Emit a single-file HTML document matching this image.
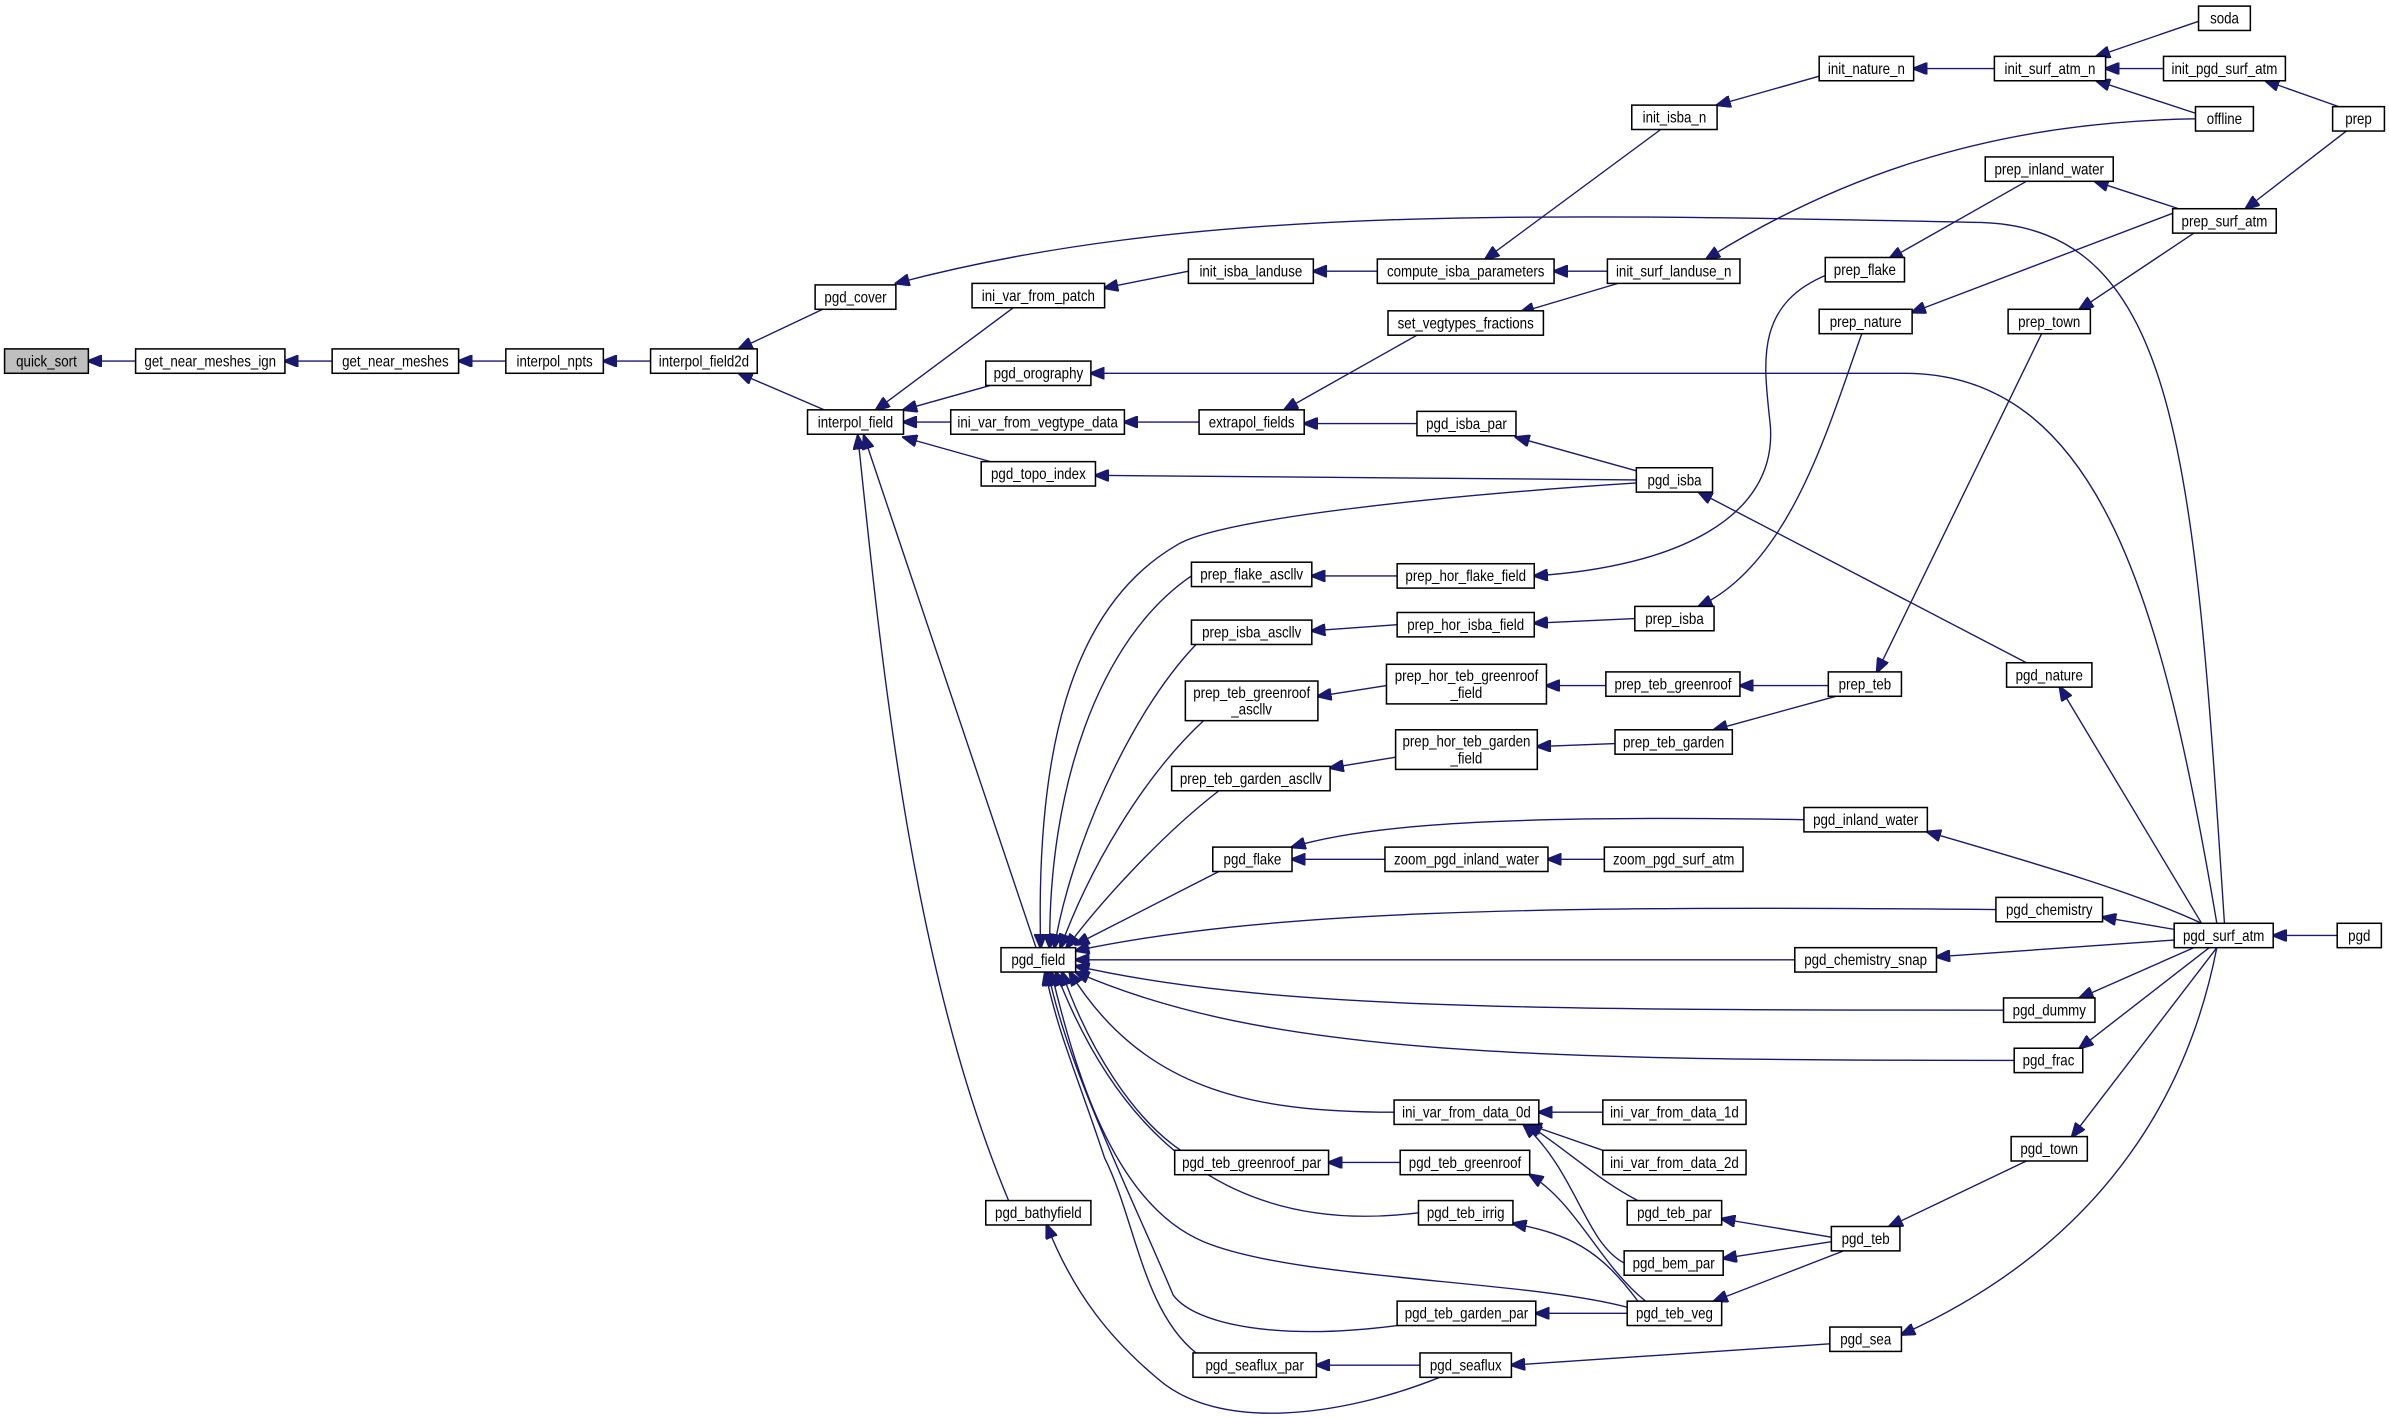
<!DOCTYPE html>
<html><head><meta charset="utf-8"><style>
html,body{margin:0;padding:0;background:#fff;}
svg{display:block;}
text{font-family:"Liberation Sans",Arial,sans-serif;font-size:10.4px;text-anchor:middle;fill:#000;transform-box:fill-box;transform-origin:center;transform:scaleX(0.84);}
rect{fill:#fff;stroke:#000;stroke-width:1;}
path{fill:none;stroke:#191970;stroke-width:0.9;}
</style></head><body>
<svg width="2389" height="1418" viewBox="0 0 1568 930.7" preserveAspectRatio="none" xmlns="http://www.w3.org/2000/svg">
<defs><marker id="a" markerUnits="userSpaceOnUse" markerWidth="10" markerHeight="8" refX="9" refY="4" orient="auto"><path d="M0,0 L10,4 L0,8 Z" style="fill:#191970;stroke:#191970"/></marker></defs>
<g marker-end="url(#a)">
<path d="M89,237 L58,237"/>
<path d="M218,237 L187,237"/>
<path d="M332,237 L301,237"/>
<path d="M427,237 L396,237"/>
<path d="M540,203 L485,229"/>
<path d="M541,269 L485,245"/>
<path d="M1460,606 C1440,300 1430,150 1300,146 C1000,140 780,135 588,186"/>
<path d="M665,202 L575,269"/>
<path d="M650,253 L593,269"/>
<path d="M624,277 L593,277"/>
<path d="M650,303 L593,287"/>
<path d="M680,622 L567,286"/>
<path d="M662,788 C600,640 580,450 563,286"/>
<path d="M780,178 L725,189"/>
<path d="M904,178 L862,178"/>
<path d="M1090,85 L975,170"/>
<path d="M1055,178 L1020,178"/>
<path d="M1062,186 L998,205"/>
<path d="M787,277 L738,277"/>
<path d="M930,220 L843,269"/>
<path d="M930,278 L856,278"/>
<path d="M1074,309 L995,287"/>
<path d="M1074,315 L719,312"/>
<path d="M1194,50 L1127,69"/>
<path d="M1309,45 L1256,45"/>
<path d="M1443,14 L1376,37"/>
<path d="M1420,45 L1382,45"/>
<path d="M1443,75 L1376,53"/>
<path d="M1535,70 L1487,53"/>
<path d="M1441,78 C1300,80 1200,120 1120,170"/>
<path d="M1540,86 L1474,137"/>
<path d="M1430,137 L1375,119"/>
<path d="M1426,140 L1255,205"/>
<path d="M1440,153 L1365,203"/>
<path d="M1330,119 L1240,170"/>
<path d="M1200,180 C1150,200 1158,240 1162,280 C1166,340 1100,372 1007,378"/>
<path d="M1222,219 C1200,280 1175,370 1115,398"/>
<path d="M1340,219 L1232,441"/>
<path d="M1455,606 C1420,400 1380,245 1250,245 L716,245"/>
<path d="M1074,317 C950,325 800,340 772,358 C700,400 680,500 683,622"/>
<path d="M1330,435 L1115,323"/>
<path d="M1445,606 L1352,451"/>
<path d="M782,378 C720,420 688,520 689,622"/>
<path d="M917,378 L861,378"/>
<path d="M785,423 C740,470 702,560 692,622"/>
<path d="M917,410 L861,414"/>
<path d="M1073,406 L1007,409"/>
<path d="M790,473 C750,510 715,570 696,622"/>
<path d="M910,450 L865,457"/>
<path d="M1054,450 L1015,450"/>
<path d="M1200,450 L1142,450"/>
<path d="M800,519 C760,550 720,595 700,622"/>
<path d="M916,497 L873,504"/>
<path d="M1060,488 L1009,490"/>
<path d="M1205,457 L1125,479"/>
<path d="M800,572 L706,620"/>
<path d="M909,564 L848,564"/>
<path d="M1053,564 L1016,564"/>
<path d="M1184,538 C1000,535 900,540 848,556"/>
<path d="M1445,606 C1400,585 1330,565 1265,546"/>
<path d="M1310,597 C1000,594 830,598 706,624"/>
<path d="M1427,610 L1380,602"/>
<path d="M1178,630 L706,630"/>
<path d="M1427,617 L1271,628"/>
<path d="M1534,614 L1492,614"/>
<path d="M1315,663 C1000,663 830,662 706,634"/>
<path d="M1440,622 L1365,655"/>
<path d="M1322,696 C1000,696 830,692 706,638"/>
<path d="M1450,622 L1365,688"/>
<path d="M915,730 C820,730 750,715 702,638"/>
<path d="M1052,730 L1010,730"/>
<path d="M1052,755 L1003,738"/>
<path d="M1075,788 C1050,775 1035,760 1003,738"/>
<path d="M1066,829 C1040,815 1035,770 1000,738"/>
<path d="M775,755 C745,735 715,690 697,638"/>
<path d="M919,763 L872,763"/>
<path d="M1080,854 C1050,830 1035,790 1004,771"/>
<path d="M931,796 C820,810 740,760 693,638"/>
<path d="M1075,854 C1050,820 1030,810 993,803"/>
<path d="M1068,858 C1000,840 850,840 790,815 C730,790 705,700 690,638"/>
<path d="M917,870 C840,880 785,870 770,850 C745,790 700,700 688,638"/>
<path d="M1068,862 L1008,862"/>
<path d="M1202,812 L1130,800"/>
<path d="M1202,815 L1131,826"/>
<path d="M1210,821 L1125,854"/>
<path d="M1330,762 L1240,805"/>
<path d="M1455,622 L1360,746"/>
<path d="M785,888 C750,860 745,800 725,760 C705,700 695,680 686,638"/>
<path d="M932,896 L864,896"/>
<path d="M1201,882 L992,896"/>
<path d="M1455,622 C1430,750 1350,830 1248,876"/>
<path d="M945,904 C880,930 800,940 760,905 C730,880 705,850 687,804"/>
</g>
<rect x="3" y="229" width="55" height="16" style="fill:#bfbfbf"/><text x="30.5" y="240.5">quick_sort</text>
<rect x="89" y="229" width="98" height="16"/><text x="138" y="240.5">get_near_meshes_ign</text>
<rect x="218" y="229" width="83" height="16"/><text x="259.5" y="240.5">get_near_meshes</text>
<rect x="332" y="229" width="64" height="16"/><text x="364" y="240.5">interpol_npts</text>
<rect x="427" y="229" width="70" height="16"/><text x="462" y="240.5">interpol_field2d</text>
<rect x="535" y="187" width="53" height="16"/><text x="561.5" y="198.5">pgd_cover</text>
<rect x="530" y="269" width="63" height="16"/><text x="561.5" y="280.5">interpol_field</text>
<rect x="638" y="186" width="87" height="16"/><text x="681.5" y="197.5">ini_var_from_patch</text>
<rect x="647" y="237" width="69" height="16"/><text x="681.5" y="248.5">pgd_orography</text>
<rect x="624" y="269" width="114" height="16"/><text x="681" y="280.5">ini_var_from_vegtype_data</text>
<rect x="644" y="303" width="75" height="16"/><text x="681.5" y="314.5">pgd_topo_index</text>
<rect x="780" y="170" width="82" height="16"/><text x="821" y="181.5">init_isba_landuse</text>
<rect x="787" y="269" width="69" height="16"/><text x="821.5" y="280.5">extrapol_fields</text>
<rect x="904" y="170" width="116" height="16"/><text x="962" y="181.5">compute_isba_parameters</text>
<rect x="911" y="204" width="102" height="16"/><text x="962" y="215.5">set_vegtypes_fractions</text>
<rect x="1071" y="69" width="56" height="16"/><text x="1099" y="80.5">init_isba_n</text>
<rect x="1055" y="170" width="87" height="16"/><text x="1098.5" y="181.5">init_surf_landuse_n</text>
<rect x="930" y="270" width="65" height="16"/><text x="962.5" y="281.5">pgd_isba_par</text>
<rect x="1074" y="307" width="50" height="16"/><text x="1099" y="318.5">pgd_isba</text>
<rect x="1194" y="37" width="62" height="16"/><text x="1225" y="48.5">init_nature_n</text>
<rect x="1309" y="37" width="73" height="16"/><text x="1345.5" y="48.5">init_surf_atm_n</text>
<rect x="1443" y="4" width="34" height="16"/><text x="1460" y="15.5">soda</text>
<rect x="1420" y="37" width="80" height="16"/><text x="1460" y="48.5">init_pgd_surf_atm</text>
<rect x="1441" y="70" width="38" height="16"/><text x="1460" y="81.5">offline</text>
<rect x="1531" y="70" width="34" height="16"/><text x="1548" y="81.5">prep</text>
<rect x="1303" y="103" width="84" height="16"/><text x="1345" y="114.5">prep_inland_water</text>
<rect x="1426" y="137" width="68" height="16"/><text x="1460" y="148.5">prep_surf_atm</text>
<rect x="1198" y="169" width="52" height="16"/><text x="1224" y="180.5">prep_flake</text>
<rect x="1194" y="203" width="61" height="16"/><text x="1224.5" y="214.5">prep_nature</text>
<rect x="1318" y="203" width="54" height="16"/><text x="1345" y="214.5">prep_town</text>
<rect x="657" y="622" width="49" height="16"/><text x="681.5" y="633.5">pgd_field</text>
<rect x="782" y="369" width="79" height="16"/><text x="821.5" y="380.5">prep_flake_ascllv</text>
<rect x="917" y="370" width="90" height="16"/><text x="962" y="381.5">prep_hor_flake_field</text>
<rect x="782" y="407" width="79" height="16"/><text x="821.5" y="418.5">prep_isba_ascllv</text>
<rect x="917" y="402" width="90" height="16"/><text x="962" y="413.5">prep_hor_isba_field</text>
<rect x="1073" y="398" width="52" height="16"/><text x="1099" y="409.5">prep_isba</text>
<rect x="778" y="447" width="87" height="26"/><text x="821.5" y="458">prep_teb_greenroof</text><text x="821.5" y="469">_ascllv</text>
<rect x="910" y="436" width="105" height="26"/><text x="962.5" y="447">prep_hor_teb_greenroof</text><text x="962.5" y="458">_field</text>
<rect x="1054" y="441" width="88" height="16"/><text x="1098" y="452.5">prep_teb_greenroof</text>
<rect x="1200" y="441" width="48" height="16"/><text x="1224" y="452.5">prep_teb</text>
<rect x="1317" y="435" width="56" height="16"/><text x="1345" y="446.5">pgd_nature</text>
<rect x="769" y="503" width="104" height="16"/><text x="821" y="514.5">prep_teb_garden_ascllv</text>
<rect x="916" y="479" width="93" height="26"/><text x="962.5" y="490">prep_hor_teb_garden</text><text x="962.5" y="501">_field</text>
<rect x="1060" y="479" width="77" height="16"/><text x="1098.5" y="490.5">prep_teb_garden</text>
<rect x="1184" y="530" width="81" height="16"/><text x="1224.5" y="541.5">pgd_inland_water</text>
<rect x="796" y="556" width="52" height="16"/><text x="822" y="567.5">pgd_flake</text>
<rect x="909" y="556" width="107" height="16"/><text x="962.5" y="567.5">zoom_pgd_inland_water</text>
<rect x="1053" y="556" width="91" height="16"/><text x="1098.5" y="567.5">zoom_pgd_surf_atm</text>
<rect x="1310" y="589" width="70" height="16"/><text x="1345" y="600.5">pgd_chemistry</text>
<rect x="1427" y="606" width="65" height="16"/><text x="1459.5" y="617.5">pgd_surf_atm</text>
<rect x="1534" y="606" width="29" height="16"/><text x="1548.5" y="617.5">pgd</text>
<rect x="1178" y="622" width="93" height="16"/><text x="1224.5" y="633.5">pgd_chemistry_snap</text>
<rect x="1315" y="655" width="60" height="16"/><text x="1345" y="666.5">pgd_dummy</text>
<rect x="1322" y="688" width="45" height="16"/><text x="1344.5" y="699.5">pgd_frac</text>
<rect x="915" y="722" width="95" height="16"/><text x="962.5" y="733.5">ini_var_from_data_0d</text>
<rect x="1052" y="722" width="94" height="16"/><text x="1099" y="733.5">ini_var_from_data_1d</text>
<rect x="1052" y="755" width="94" height="16"/><text x="1099" y="766.5">ini_var_from_data_2d</text>
<rect x="771" y="755" width="101" height="16"/><text x="821.5" y="766.5">pgd_teb_greenroof_par</text>
<rect x="919" y="755" width="85" height="16"/><text x="961.5" y="766.5">pgd_teb_greenroof</text>
<rect x="1320" y="746" width="50" height="16"/><text x="1345" y="757.5">pgd_town</text>
<rect x="647" y="788" width="69" height="16"/><text x="681.5" y="799.5">pgd_bathyfield</text>
<rect x="931" y="788" width="62" height="16"/><text x="962" y="799.5">pgd_teb_irrig</text>
<rect x="1068" y="788" width="62" height="16"/><text x="1099" y="799.5">pgd_teb_par</text>
<rect x="1202" y="805" width="45" height="16"/><text x="1224.5" y="816.5">pgd_teb</text>
<rect x="1066" y="821" width="65" height="16"/><text x="1098.5" y="832.5">pgd_bem_par</text>
<rect x="917" y="854" width="91" height="16"/><text x="962.5" y="865.5">pgd_teb_garden_par</text>
<rect x="1068" y="854" width="62" height="16"/><text x="1099" y="865.5">pgd_teb_veg</text>
<rect x="1201" y="871" width="47" height="16"/><text x="1224.5" y="882.5">pgd_sea</text>
<rect x="783" y="888" width="81" height="16"/><text x="823.5" y="899.5">pgd_seaflux_par</text>
<rect x="932" y="888" width="60" height="16"/><text x="962" y="899.5">pgd_seaflux</text>
</svg>
</body></html>
